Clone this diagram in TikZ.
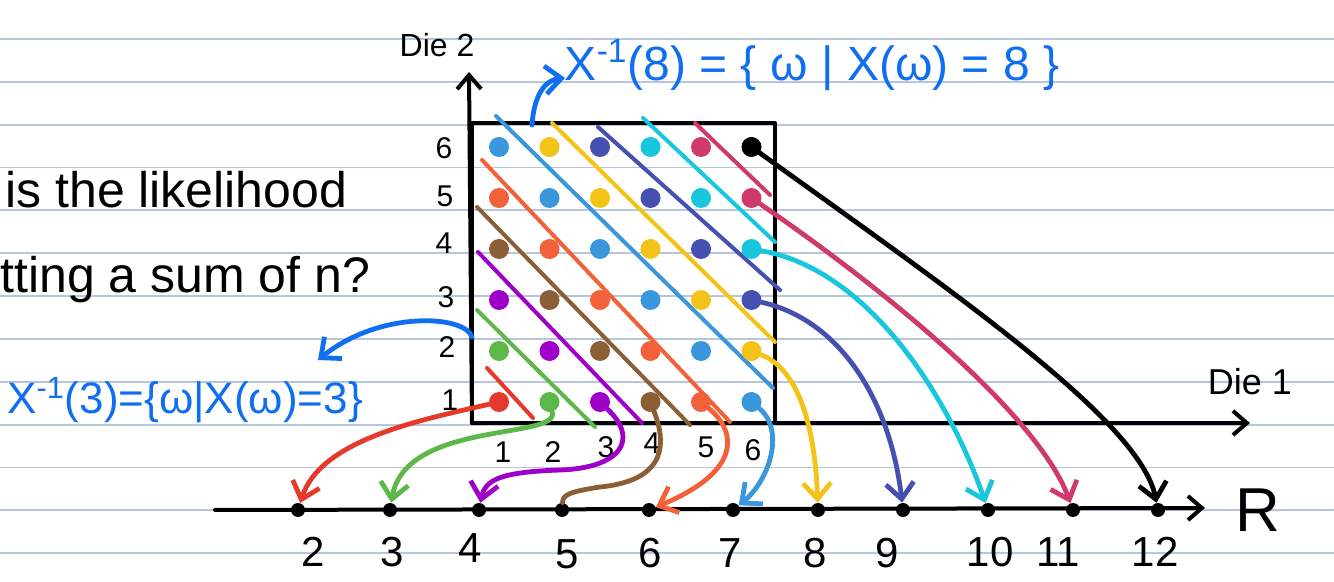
\documentclass[tikz,border=0pt]{standalone}
\usepackage{fontspec}
\setmainfont{Liberation Sans}
\usetikzlibrary{arrows.meta}
\definecolor{ruleblue}{HTML}{B7C5DD}
\definecolor{annblue}{HTML}{0F6FF0}
\definecolor{sum2}{HTML}{E5392B}
\definecolor{sum3}{HTML}{5DB84A}
\definecolor{sum4}{HTML}{9E00CA}
\definecolor{sum5}{HTML}{8C5E35}
\definecolor{sum6}{HTML}{F26139}
\definecolor{sum7}{HTML}{3B97DC}
\definecolor{sum8}{HTML}{F3C317}
\definecolor{sum9}{HTML}{4650B0}
\definecolor{sum10}{HTML}{18C6DD}
\definecolor{sum11}{HTML}{CF3A6B}
\definecolor{sum12}{HTML}{000000}
\tikzset{
  every picture/.style={line cap=round, line join=round},
  dot/.style={circle, fill=#1, inner sep=0pt, minimum size=10pt},
  pt/.style={circle, fill=black, inner sep=0pt, minimum size=7pt},
  diag/.style={draw=#1, line width=2pt},
  maparrow/.style={draw=#1, line width=2.4pt, -{Straight Barb[length=8pt,width=14pt]}},
  axis/.style={draw=black, line width=2pt, -{Straight Barb[length=7pt,width=12pt]}},
  ruled/.style={draw=ruleblue, line width=0.9pt},
  tick/.style={font=\fontsize{15}{15}\selectfont},
  num/.style={font=\fontsize{21}{21}\selectfont},
  note/.style={text=annblue, font=\fontsize{22}{22}\selectfont, inner sep=0pt},
  words/.style={font=\fontsize{25}{25}\selectfont, anchor=west, inner sep=0pt},
}
\begin{document}
\begin{tikzpicture}[x=0.5pt, y=-0.5pt]
  \fill[white] (0,0) rectangle (1334,582);
  \useasboundingbox (0,0) rectangle (1334,582);
  % notebook lines
  \foreach \k in {0,...,12}
    \draw[ruled] (0,{39+42.85*\k}) -- (1334,{39+42.85*\k});

  % question text, cut at the left edge
  \node[words] (q1) at (5,190) {is the likelihood};
  \node[words] (q2) at (0,280) {tting a sum of n?};

  % sample space
  \coordinate (o) at (472,423);
  \coordinate (ytop) at (469,72);
  \coordinate (xend) at (1250,423);
  \draw[line width=2pt] (o) rectangle (775,123);
  \draw[axis] (o) -- (ytop);
  \draw[axis] (o) -- (xend);
  \node[font=\fontsize{16}{16}\selectfont] (die2) at (437,45) {Die 2};
  \node[font=\fontsize{18}{18}\selectfont] (die1) at (1250,382) {Die 1};
  \foreach \j/\x/\y in {1/450/400, 2/447/347, 3/446/297, 4/444/243, 5/445/196, 6/444/148}
    \node[tick] (t2\j) at (\x,\y) {\j};
  \foreach \i/\x/\y in {1/503/452, 2/553/452, 3/606/447, 4/652/443, 5/706/447, 6/753/450}
    \node[tick] (t1\i) at (\x,\y) {\i};

  % level sets of the sum
  \draw[diag=sum2] (487,368) -- (533,418);
  \draw[diag=sum3] (477,310) -- (595,427);
  \draw[diag=sum4] (478,252) -- (642,423);
  \draw[diag=sum5] (477,207) -- (690,425);
  \draw[diag=sum6] (482,160) -- (730,422);
  \draw[diag=sum7] (496,116) -- (773,388);
  \draw[diag=sum8] (552,123) -- (775,342);
  \draw[diag=sum9] (598,127) -- (780,290);
  \draw[diag=sum10] (643,118) -- (775,242);
  \draw[diag=sum11] (695,123) -- (770,195);

  % outcomes
  \foreach \i in {1,...,6}
    \foreach \j in {1,...,6} {
      \pgfmathtruncatemacro\s{\i+\j}
      \node[dot=sum\s] (d\i\j) at ({499+50.5*(\i-1)},{402-51*(\j-1)}) {};
    }
  \node[pt] at (d66) {};

  % real line
  \coordinate (rl) at (215,510);
  \coordinate (rr) at (1205,508);
  \draw[axis] (rl) -- (rr);
  \node[font=\fontsize{31}{31}\selectfont] (R) at (1258,510) {R};
  \foreach \n/\x in {2/298, 3/390, 4/479, 5/562, 6/649, 7/733, 8/818, 9/903, 10/988, 11/1073, 12/1158}
    \node[pt] (r\n) at (\x,510) {};
  \foreach \n/\x/\y in {2/313/552, 3/392/552, 4/470/548, 5/567/554, 6/650/553, 7/730/553, 8/815/553, 9/887/553, 10/990/552, 11/1058/552, 12/1155/552}
    \node[num] (n\n) at (\x,\y) {\n};

  % X maps each outcome to its sum
  \draw[maparrow=sum2] (d11) .. controls (420,420) and (320,440) .. (r2);
  \draw[maparrow=sum3] (d21) .. controls (560,440) and (405,420) .. (r3);
  \draw[maparrow=sum4] (d31) .. controls (640,440) and (620,468) .. (560,470)
                               .. controls (500,472) and (485,480) .. (r4);
  \draw[diag=sum5, line width=2.4pt] (d41) .. controls (665,440) and (670,480) .. (600,487)
                               .. controls (568,492) and (563,495) .. (r5);
  \draw[maparrow=sum6] (d51) .. controls (735,430) and (745,470) .. (r6);
  \draw[maparrow=sum7] (d61) .. controls (785,430) and (770,480) .. (r7);
  \draw[maparrow=sum8] (d62) .. controls (800,370) and (815,430) .. (r8);
  \draw[maparrow=sum9] (d63) .. controls (840,320) and (890,400) .. (r9);
  \draw[maparrow=sum10] (d64) .. controls (870,270) and (950,400) .. (r10);
  \draw[maparrow=sum11] (d65) .. controls (900,300) and (1040,420) .. (r11);
  \draw[maparrow=sum12] (d66) .. controls (950,290) and (1140,420) .. (r12);

  % preimages
  \node[note, font=\fontsize{24}{24}\selectfont] (inv8) at (812,65)
    {X\textsuperscript{-1}(8) = \{ ω | X(ω) = 8 \}};
  \node[note] (inv3) at (185,400) {X\textsuperscript{-1}(3)=\{ω|X(ω)=3\}};
  \coordinate (a8) at (532,125);
  \coordinate (e8) at (565,78);
  \coordinate (a3) at (472,337);
  \coordinate (e3) at (318,360);
  \draw[maparrow=annblue] (a8) .. controls (534,95) and (545,80) .. (e8);
  \draw[maparrow=annblue] (a3) .. controls (465,315) and (380,310) .. (e3);
\end{tikzpicture}
\end{document}
